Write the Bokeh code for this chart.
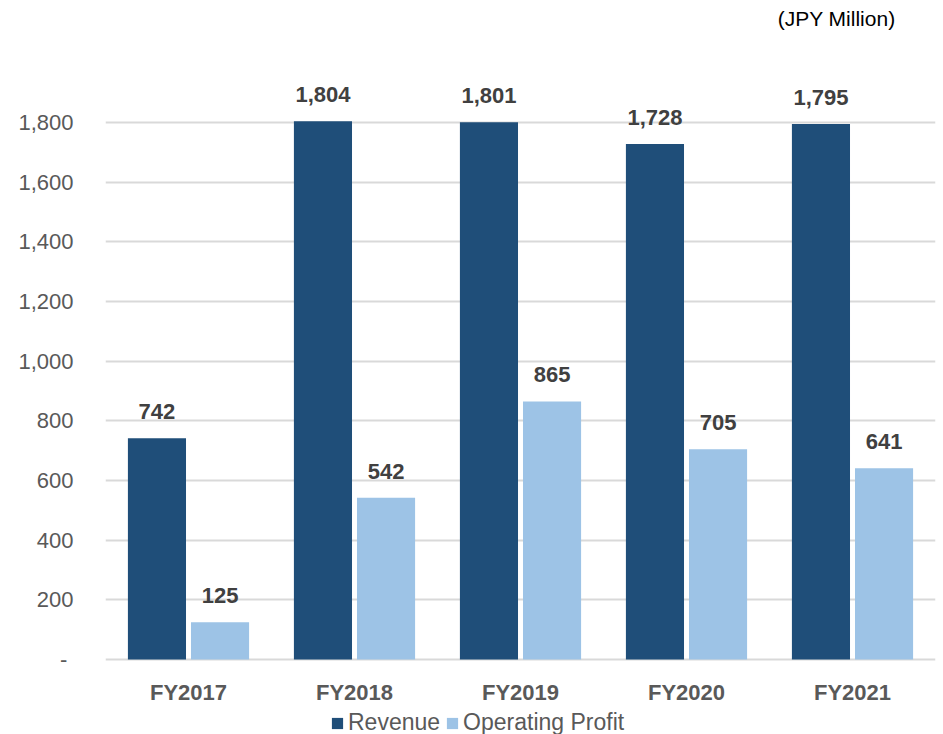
from bokeh.plotting import figure
from bokeh.models import ColumnDataSource, Range1d, FixedTicker, Legend, LegendItem, Label, LabelSet, NumeralTickFormatter
from bokeh.transform import dodge
from bokeh.embed import file_html
from bokeh.resources import INLINE
from bokeh.core.properties import value

categories = ["FY2017", "FY2018", "FY2019", "FY2020", "FY2021"]
revenue = [742, 1804, 1801, 1728, 1795]
profit = [125, 542, 865, 705, 641]
yticks = [0, 200, 400, 600, 800, 1000, 1200, 1400, 1600, 1800]

FONT = "Liberation Sans"
source = ColumnDataSource(dict(
    cat=categories, revenue=revenue, profit=profit,
    rev_lbl=[f"{v:,}" for v in revenue], pro_lbl=[f"{v:,}" for v in profit],
))

PX_PER_UNIT = 537 / 1800.0
ZERO_Y = 659      # pixel row of the zero line
FRAME_H = 734
p = figure(x_range=categories,
           y_range=Range1d(-(FRAME_H - ZERO_Y) / PX_PER_UNIT, ZERO_Y / PX_PER_UNIT),
           width=943, height=734, frame_width=830, frame_height=FRAME_H,
           min_border_left=105, min_border_right=8, min_border_top=0, min_border_bottom=0,
           output_backend="svg", toolbar_location=None)
p.outline_line_color = None
p.background_fill_color = "white"

rb = p.vbar(x=dodge("cat", -0.19, range=p.x_range), top="revenue", width=0.35,
            source=source, fill_color="#1F4E79", line_color=None)
pb = p.vbar(x=dodge("cat", 0.19, range=p.x_range), top="profit", width=0.35,
            source=source, fill_color="#9DC3E6", line_color=None)

lbl_kw = dict(source=source, text_font=value(FONT), text_font_size="22px", text_font_style="bold",
              text_color="#404040", text_align="center", text_baseline="bottom", y_offset=19)
p.add_layout(LabelSet(x=dodge("cat", -0.19, range=p.x_range), y="revenue", text="rev_lbl", **lbl_kw))
p.add_layout(LabelSet(x=dodge("cat", 0.19, range=p.x_range), y="profit", text="pro_lbl", **lbl_kw))

# category labels under the bars
p.add_layout(LabelSet(x="cat", y=0, text="cat", source=source, text_font=value(FONT),
                      text_font_size="22px", text_font_style="bold", text_color="#595959",
                      text_align="center", text_baseline="middle", y_offset=-33))

p.yaxis.ticker = FixedTicker(ticks=yticks)
p.yaxis.formatter = NumeralTickFormatter(format="0,0")
p.yaxis.major_label_overrides = {0: "-\u00a0"}
p.yaxis.axis_line_color = None
p.yaxis.major_tick_line_color = None
p.yaxis.minor_tick_line_color = None
p.yaxis.major_label_text_font = FONT
p.yaxis.major_label_text_font_size = "22px"
p.yaxis.major_label_text_color = "#595959"
p.yaxis.major_label_standoff = 26

p.xaxis.visible = False

p.xgrid.grid_line_color = None
p.ygrid.grid_line_color = "#D9D9D9"
p.ygrid.grid_line_width = 2

unit_label = Label(x=(895 - 105) / 166.0, y=(ZERO_Y - 18) / PX_PER_UNIT, text="(JPY Million)",
                   text_font=FONT, text_font_size="21px", text_color="#000000",
                   text_align="right", text_baseline="middle")
p.add_layout(unit_label)

legend = Legend(items=[LegendItem(label="Revenue", renderers=[rb]),
                       LegendItem(label="Operating Profit", renderers=[pb])],
                orientation="horizontal", location=(225, -2),
                label_text_font=FONT, label_text_font_size="23px", label_text_color="#595959",
                glyph_width=14, glyph_height=14, label_standoff=4, spacing=5,
                padding=0, margin=0, border_line_color=None, background_fill_alpha=0)
p.add_layout(legend, "center")

open("out.html", "w").write(file_html(p, INLINE))
